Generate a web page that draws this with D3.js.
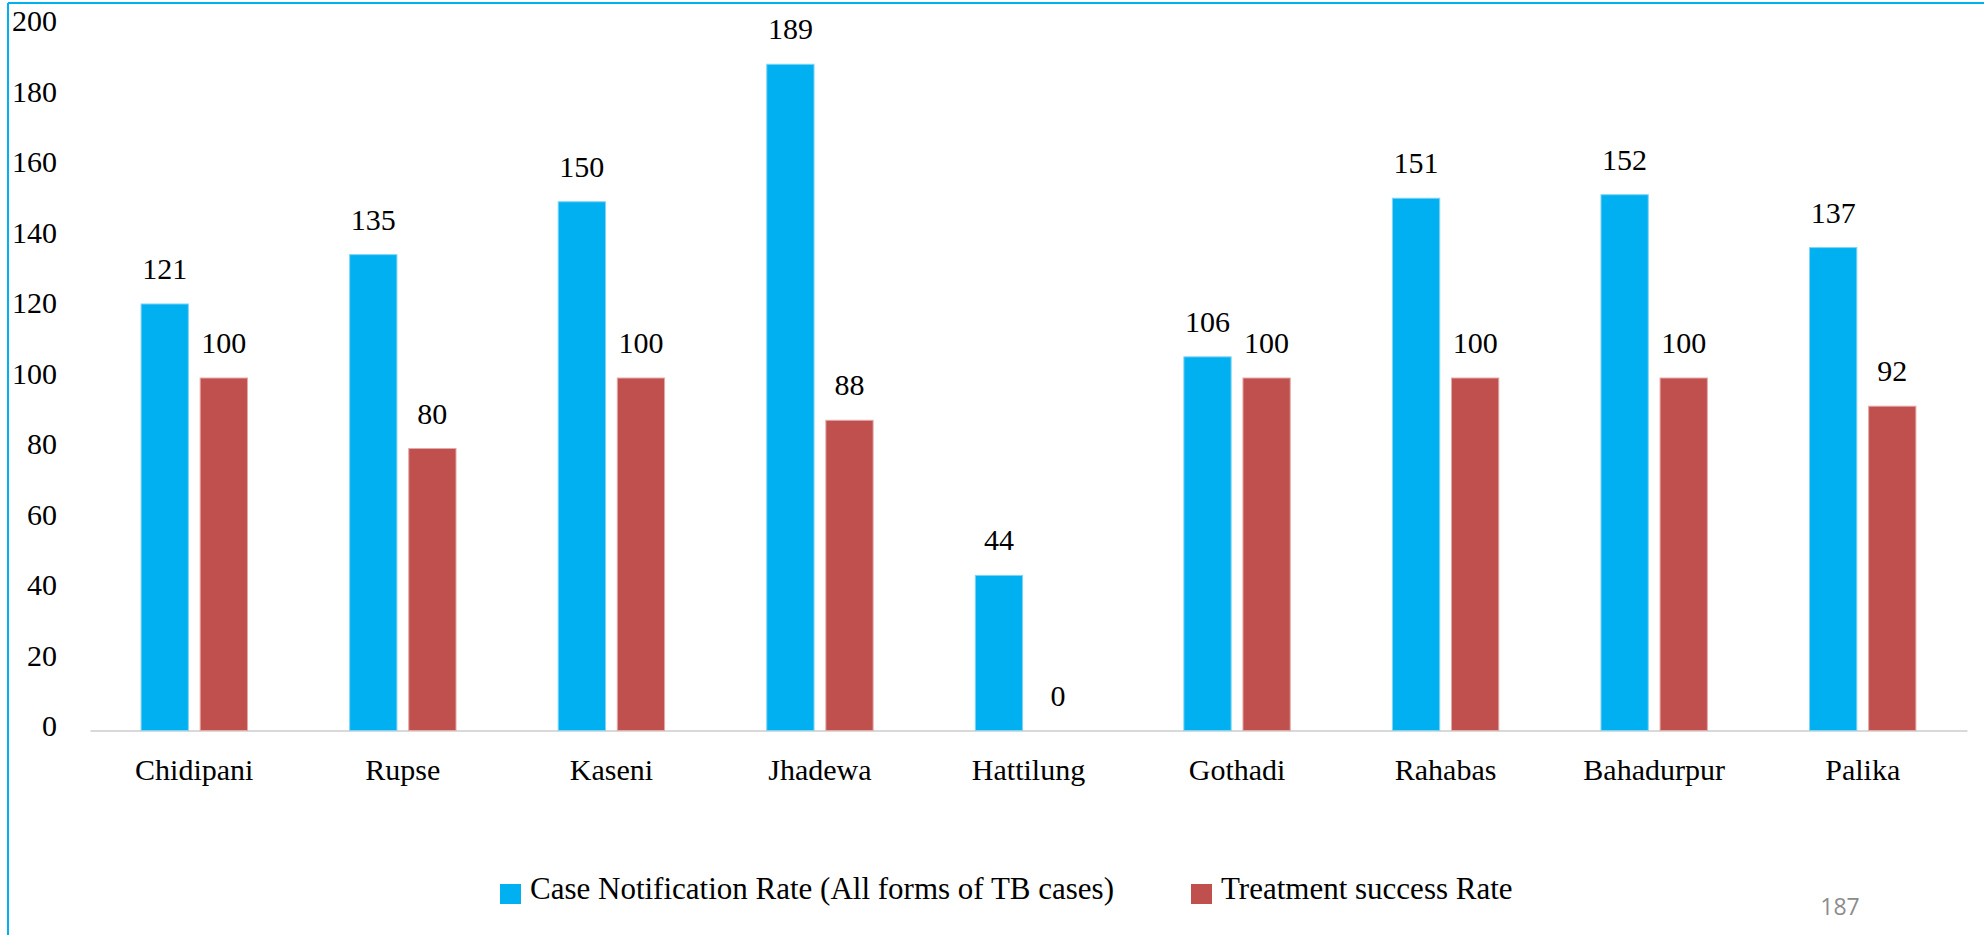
<!DOCTYPE html>
<html>
<head>
<meta charset="utf-8">
<script src="https://cdn.jsdelivr.net/npm/d3@7"></script>
<style>
  html, body { margin: 0; padding: 0; background: #fff; }
  svg { display: block; }
</style>
</head>
<body>
<svg id="chart" width="1984" height="935"></svg>
<script>
// data
let categories = ["Chidipani", "Rupse", "Kaseni", "Jhadewa", "Hattilung", "Gothadi", "Rahabas", "Bahadurpur", "Palika"];
let seriesNames = ["Case Notification Rate (All forms of TB cases)", "Treatment success Rate"];
let notificationRate = [121, 135, 150, 189, 44, 106, 151, 152, 137];
let successRate = [100, 80, 100, 88, 0, 100, 100, 100, 92];
let yTicks = [0, 20, 40, 60, 80, 100, 120, 140, 160, 180, 200];

let colors = ["#00b0f0", "#c0504d"];
let strokes = ["#7fd4f5", "#e3a9a7"];
let serif = "'Liberation Serif', 'Times New Roman', serif";

let svg = d3.select("#chart");

// cyan frame edges (top and left)
svg.append("line").attr("x1", 8).attr("x2", 1984).attr("y1", 3).attr("y2", 3)
    .attr("stroke", "#00b0f0").attr("stroke-width", 2);
svg.append("line").attr("x1", 8).attr("x2", 8).attr("y1", 3).attr("y2", 935)
    .attr("stroke", "#00b0f0").attr("stroke-width", 2);

let x0 = d3.scaleBand()
    .domain(categories)
    .range([90, 1967])
    .paddingInner(0.49)
    .paddingOuter(0.245);

let x1 = d3.scaleBand()
    .domain(seriesNames)
    .range([0, x0.bandwidth()])
    .paddingInner(0.2);

let y = d3.scaleLinear().domain([0, 200]).range([730.5, 25.5]);

// y tick labels (no axis line)
let yAxis = d3.axisLeft(y).tickValues(yTicks).tickSize(0).tickPadding(0);
let yg = svg.append("g").attr("transform", "translate(57,0)").call(yAxis);
yg.select(".domain").remove();
yg.attr("font-family", serif);
yg.selectAll("text")
    .attr("font-family", serif)
    .attr("font-size", 30)
    .attr("fill", "#000")
    .attr("dy", "0.3em")
    .attr("transform", "translate(0,-4)");

// x axis
let xAxis = d3.axisBottom(x0).tickSize(0).tickPadding(0);
let xg = svg.append("g").attr("transform", "translate(0," + y(0) + ")").call(xAxis);
xg.attr("font-family", serif);
xg.select(".domain").attr("stroke", "#d9d9d9").attr("stroke-width", 2);
xg.selectAll("text")
    .attr("font-family", serif)
    .attr("font-size", 30)
    .attr("fill", "#000")
    .attr("y", 49)
    .attr("dy", 0);

let rows = categories.map((c, i) => ({ cat: c, values: [notificationRate[i], successRate[i]] }));

let groups = svg.append("g").selectAll("g")
    .data(rows)
    .join("g")
    .attr("transform", d => "translate(" + x0(d.cat) + ",0)");

groups.selectAll("rect")
    .data(d => d.values.map((v, k) => ({ v: v, k: k })))
    .join("rect")
    .attr("x", d => x1(seriesNames[d.k]))
    .attr("width", x1.bandwidth())
    .attr("y", d => y(d.v))
    .attr("height", d => y(0) - y(d.v))
    .attr("fill", d => colors[d.k])
    .attr("stroke", d => d.v > 0 ? strokes[d.k] : "none")
    .attr("stroke-width", 1);

groups.selectAll("text")
    .data(d => d.values.map((v, k) => ({ v: v, k: k })))
    .join("text")
    .attr("x", d => x1(seriesNames[d.k]) + x1.bandwidth() / 2)
    .attr("y", d => y(d.v) - 25)
    .attr("text-anchor", "middle")
    .attr("font-family", serif)
    .attr("font-size", 30)
    .attr("fill", "#000")
    .text(d => d.v);

// legend
let legendX = [500, 1191];
let legend = svg.append("g").selectAll("g")
    .data(seriesNames)
    .join("g")
    .attr("transform", (d, i) => "translate(" + legendX[i] + ",884)");
legend.append("rect")
    .attr("width", 21).attr("height", 20)
    .attr("fill", (d, i) => colors[i]);
legend.append("text")
    .attr("x", 30).attr("y", 15)
    .attr("font-family", serif)
    .attr("font-size", 31)
    .attr("fill", "#000")
    .text(d => d);

// page number
svg.append("text")
    .attr("x", 1840).attr("y", 915)
    .attr("text-anchor", "middle")
    .attr("font-family", "'Open Sans', 'Noto Sans', sans-serif")
    .attr("font-size", 23)
    .attr("fill", "#8c8c8c")
    .text("187");
</script>
</body>
</html>
